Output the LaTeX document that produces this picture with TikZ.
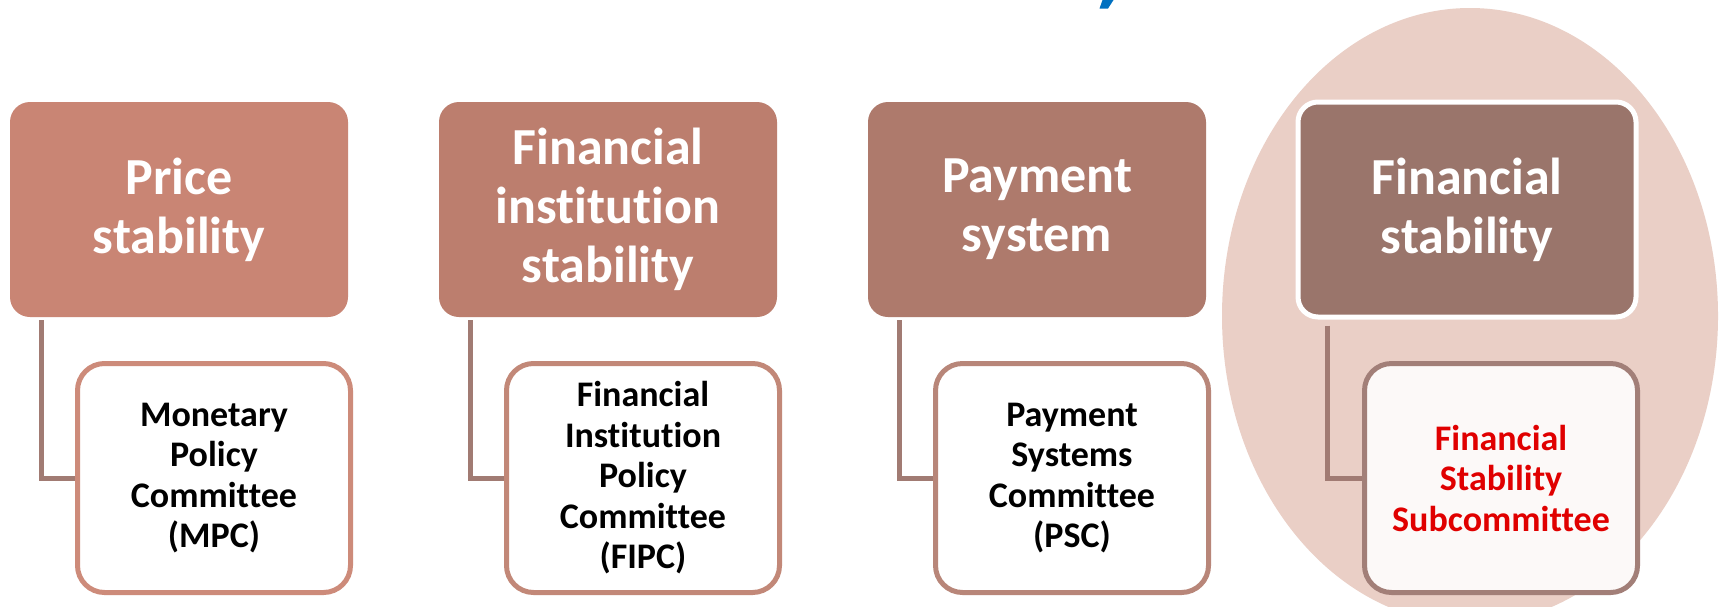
\documentclass[tikz,border=0pt]{standalone}
\usepackage{fontspec}
\setmainfont{Carlito}[Ligatures=NoCommon]
\definecolor{topA}{HTML}{C98574}
\definecolor{topB}{HTML}{BC7E6E}
\definecolor{topC}{HTML}{AE7A6C}
\definecolor{topD}{HTML}{9A756B}
\definecolor{bdA}{HTML}{CD8B7A}
\definecolor{bdB}{HTML}{C28878}
\definecolor{bdC}{HTML}{B88679}
\definecolor{bdD}{HTML}{A27F78}
\definecolor{connc}{HTML}{A17B73}
\definecolor{halo}{HTML}{EACFC6}
\definecolor{titleblue}{HTML}{0070C0}
\definecolor{redtxt}{HTML}{E00000}
\definecolor{paleD}{HTML}{FCF9F8}
\tikzset{
  topbox/.style={rectangle, rounded corners=20pt, minimum width=338pt, minimum height=215pt,
    inner sep=0pt, align=center, text=white, font=\bfseries\fontsize{52}{59}\selectfont},
  childbox/.style={rectangle, rounded corners=27pt, minimum width=273pt, minimum height=229pt,
    inner sep=0pt, align=center, line width=5pt, fill=white, text=black,
    font=\bfseries\fontsize{36}{40.5}\selectfont},
  conn/.style={draw=connc, line width=5pt}
}
\begin{document}
\begin{tikzpicture}[x=1pt,y=-1pt]
\useasboundingbox (0,0) rectangle (1723,606);
\fill[white] (0,0) rectangle (1723,606);
% highlight ellipse
\fill[halo] (1470,316) ellipse [x radius=248, y radius=308];
% clipped title fragment
\fill[titleblue] (1102.5,0) -- (1113.5,0) -- (1108,8.5) -- (1099.5,8.5) -- cycle;
% top boxes
\node[topbox, fill=topA] (t1) at (179,209.5) {Price\\stability};
\node[topbox, fill=topB] (t2) at (608,209.5) {Financial\\institution\\stability};
\node[topbox, fill=topC] (t3) at (1037,209.5) {Payment\\system};
\node[topbox, fill=topD, draw=white, line width=5pt] (t4) at (1467,209.5) {Financial\\stability};
% child boxes
\node[childbox, draw=bdA] (c1) at (214,478) {Monetary\\Policy\\Committee\\(MPC)};
\node[childbox, draw=bdB] (c2) at (643,478) {Financial\\Institution\\Policy\\Committee\\(FIPC)};
\node[childbox, draw=bdC] (c3) at (1072,478) {Payment\\Systems\\Committee\\(PSC)};
\node[childbox, draw=bdD, fill=paleD, text=redtxt] (c4) at (1501,478) {Financial\\Stability\\Subcommittee};
% connectors
\draw[conn] ([xshift=32pt,yshift=-3pt]t1.south west) |- (c1.west);
\draw[conn] ([xshift=32pt,yshift=-3pt]t2.south west) |- (c2.west);
\draw[conn] ([xshift=32pt,yshift=-3pt]t3.south west) |- (c3.west);
\draw[conn] ([xshift=32pt,yshift=-6pt]t4.south west) |- (c4.west);
\end{tikzpicture}
\end{document}
